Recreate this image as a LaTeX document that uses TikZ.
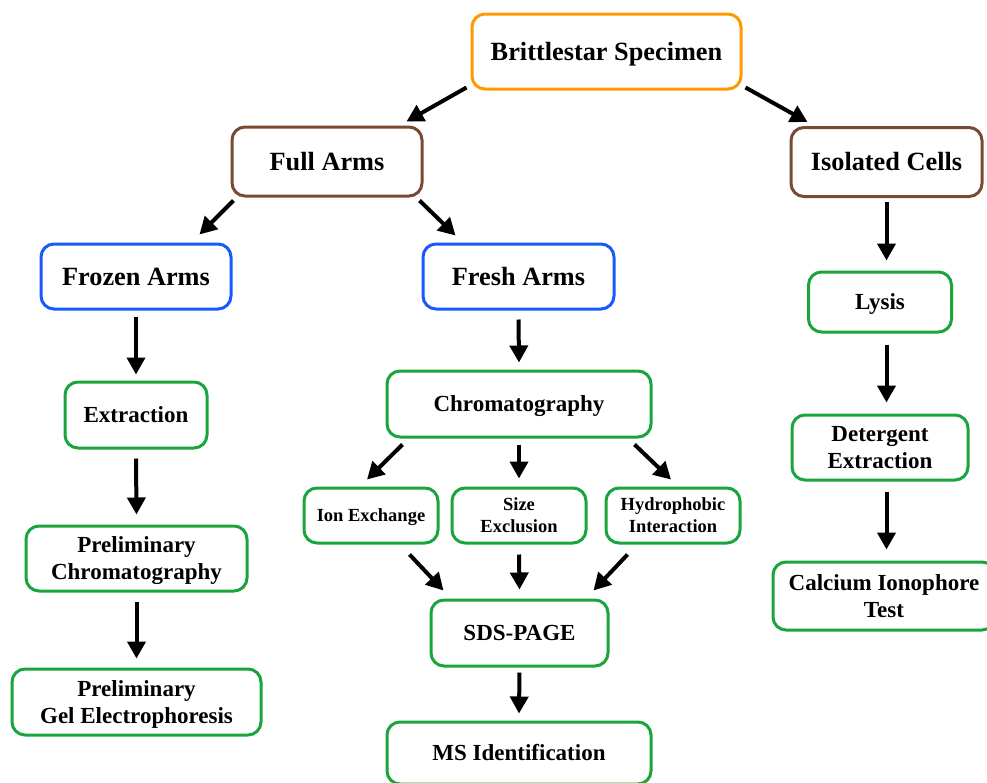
\documentclass[tikz,border=0pt]{standalone}
\usepackage{fontspec}
\setmainfont{Liberation Serif}
\usetikzlibrary{arrows.meta,calc}
\definecolor{corange}{RGB}{255,153,0}
\definecolor{cbrown}{RGB}{120,74,50}
\definecolor{cblue}{RGB}{25,88,255}
\definecolor{cgreen}{RGB}{25,165,60}
\begin{document}
\begin{tikzpicture}[x=1pt,y=-1pt,
 box/.style={draw, fill=white, line width=3pt, rounded corners=13pt, align=center, inner sep=0pt},
 big/.style={font=\bfseries\fontsize{26.3}{30}\selectfont, text height=17.6pt, text depth=0pt},
 mid/.style={font=\bfseries\fontsize{23}{27}\selectfont, text height=15.4pt, text depth=0pt},
 midtwo/.style={font=\bfseries\fontsize{23}{27}\selectfont, text height=42.4pt, text depth=0pt},
 sml/.style={font=\bfseries\fontsize{18.5}{22}\selectfont, text height=12.4pt, text depth=0pt},
 smltwo/.style={font=\bfseries\fontsize{18.5}{22}\selectfont, text height=34.4pt, text depth=0pt},
 arr/.style={line width=4pt, -{Triangle[length=17pt,width=18pt]}},
]
\useasboundingbox (0,0) rectangle (987,782);
\node[box,big,draw=corange,minimum width=269pt,minimum height=75pt] (bs) at (606.5,51.5) {Brittlestar Specimen};
\node[box,big,draw=cbrown,minimum width=190pt,minimum height=69pt] (full) at (327,161.5) {Full Arms};
\node[box,big,draw=cbrown,minimum width=191pt,minimum height=69pt] (iso) at (886.5,162) {Isolated Cells};
\node[box,big,draw=cblue,minimum width=190pt,minimum height=65pt] (frozen) at (136,276.5) {Frozen Arms};
\node[box,big,draw=cblue,minimum width=191pt,minimum height=65pt] (fresh) at (518.5,276.5) {Fresh Arms};
\node[box,mid,draw=cgreen,minimum width=143pt,minimum height=60pt] (lysis) at (880,302) {Lysis};
\node[box,mid,draw=cgreen,minimum width=142pt,minimum height=66pt] (extr) at (136,415) {Extraction};
\node[box,mid,draw=cgreen,minimum width=264pt,minimum height=66pt] (chrom) at (519,404) {Chromatography};
\node[box,midtwo,draw=cgreen,minimum width=176pt,minimum height=65pt] (det) at (880,447.5) {Detergent\\Extraction};
\node[box,sml,draw=cgreen,minimum width=134pt,minimum height=55pt] (ion) at (371,515.5) {Ion Exchange};
\node[box,smltwo,draw=cgreen,minimum width=134pt,minimum height=55pt] (size) at (519,515.5) {Size\\Exclusion};
\node[box,smltwo,draw=cgreen,minimum width=134pt,minimum height=55pt] (hydro) at (673,515.5) {Hydrophobic\\Interaction};
\node[box,midtwo,draw=cgreen,minimum width=221pt,minimum height=65pt] (pchrom) at (136.5,558.5) {Preliminary\\Chromatography};
\node[box,midtwo,draw=cgreen,minimum width=222pt,minimum height=68pt] (calc) at (884,596) {Calcium Ionophore\\Test};
\node[box,mid,draw=cgreen,minimum width=177pt,minimum height=66pt] (sds) at (519.5,633) {SDS-PAGE};
\node[box,midtwo,draw=cgreen,minimum width=249pt,minimum height=66pt] (pgel) at (136.5,702) {Preliminary\\Gel Electrophoresis};
\node[box,mid,draw=cgreen,minimum width=264pt,minimum height=62pt] (ms) at (519,753) {MS Identification};
% arrows
\draw[arr] ($(bs.south west)+(-4,-3)$) -- ($(full.north east)+(-17,-4)$);
\draw[arr] ($(bs.south east)+(3,-3)$) -- ($(iso.north west)+(18,-4)$);
\draw[arr] ($(full.south west)+(3,3)$) -- ($(frozen.north east)+(-33,-8)$);
\draw[arr] ($(full.south east)+(-4,3)$) -- ($(fresh.north west)+(34,-7)$);
\draw[arr] ($(frozen.south)+(0,6)$) -- ($(extr.north)+(0,-6)$);
\draw[arr] ($(extr.south)+(0,9)$) -- ($(pchrom.north)+(0,-10)$);
\draw[arr] ($(pchrom.south)+(0,9)$) -- ($(pgel.north)+(0,-9)$);
\draw[arr] ($(fresh.south)+(0,9)$) -- ($(chrom.north)+(0,-7)$);
\draw[arr] ($(chrom.south west)+(17,6)$) -- ($(ion.north)+(-4,-7)$);
\draw[arr] ($(chrom.south)+(0,6)$) -- ($(size.north)+(0,-8)$);
\draw[arr] ($(chrom.south east)+(-18,6)$) -- ($(hydro.north)+(-2,-7)$);
\draw[arr] ($(ion.south east)+(-30,10)$) -- ($(sds.north west)+(14,-8)$);
\draw[arr] ($(size.south)+(0,10)$) -- ($(sds.north)+(0,-9)$);
\draw[arr] ($(hydro.south west)+(23,10)$) -- ($(sds.north east)+(-16,-8)$);
\draw[arr] ($(sds.south)+(0,5)$) -- ($(ms.north)+(0,-7)$);
\draw[arr] ($(iso.south)+(0,4)$) -- ($(iso.south |- lysis.north)+(0,-10)$);
\draw[arr] ($(iso.south |- lysis.south)+(0,11)$) -- ($(iso.south |- det.north)+(0,-11)$);
\draw[arr] ($(iso.south |- det.south)+(0,10)$) -- ($(iso.south |- calc.north)+(0,-11)$);
\end{tikzpicture}
\end{document}
